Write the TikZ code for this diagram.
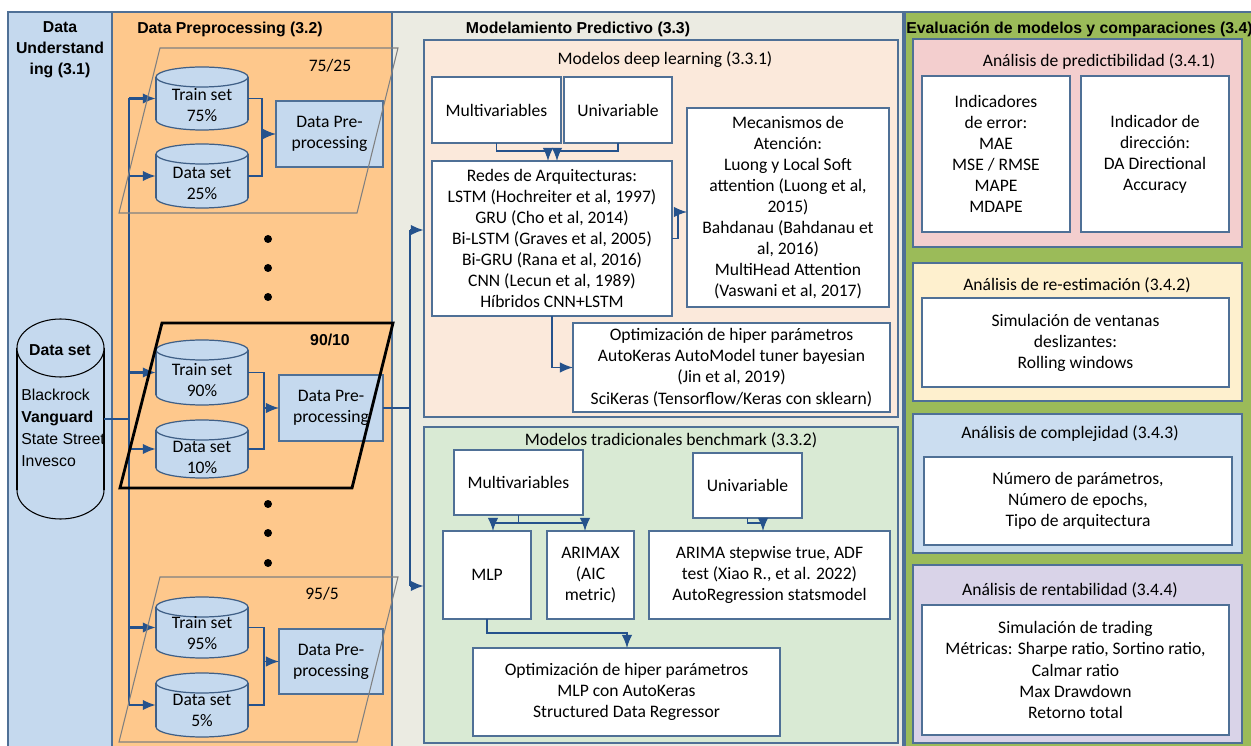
\documentclass[tikz,border=0pt]{standalone}
\usepackage{fontspec}
\setmainfont{Carlito}
\newfontfamily\arialf{Liberation Sans}
\usetikzlibrary{arrows.meta}
\definecolor{colU}{HTML}{C5D9EE}
\definecolor{colP}{HTML}{FEC88C}
\definecolor{colM}{HTML}{EBEBE2}
\definecolor{colE}{HTML}{9BBB59}
\definecolor{dlfill}{HTML}{FBE9DB}
\definecolor{tbfill}{HTML}{D9EAD4}
\definecolor{pinkf}{HTML}{F3CECE}
\definecolor{yellf}{HTML}{FEF0CE}
\definecolor{bluef}{HTML}{CBDDF0}
\definecolor{purpf}{HTML}{D9D3E8}
\definecolor{cylc}{HTML}{C5D9EE}
\definecolor{bordc}{HTML}{4F7096}
\definecolor{cylbord}{HTML}{3F5F86}
\definecolor{connc}{HTML}{25528C}
\newcommand\bodyfont{\fontsize{10}{12}\selectfont}
\newcommand\headfont{\arialf\bfseries\fontsize{9}{12}\selectfont}
\newcommand\rbox[7]{\node[#1,minimum width={(#5-#3)*0.02cm},minimum height={(#6-#4)*0.02cm},anchor=north west] (#2) at (#3,#4) {#7};}
\newcommand\cyl[7]{%
  \pgfmathsetmacro\cyX{(#3+#5)/2}%
  \pgfmathsetmacro\cyRX{(#5-#3)/2*0.02}%
  \pgfmathsetmacro\cyRY{#7*0.02}%
  \pgfmathsetmacro\cyT{#4+#7}%
  \pgfmathsetmacro\cyB{#6-#7}%
  \fill[cylc] (#3,\cyT) rectangle (#5,\cyB);
  \fill[cylc] (\cyX,\cyB) ellipse [x radius=\cyRX cm, y radius=\cyRY cm];
  \begin{scope}
    \clip (#3-3,\cyB) rectangle (#5+3,#6+3);
    \draw[#1] (\cyX,\cyB) ellipse [x radius=\cyRX cm, y radius=\cyRY cm];
  \end{scope}
  \draw[#1] (#3,\cyT) -- (#3,\cyB) (#5,\cyT) -- (#5,\cyB);
  \draw[#1,fill=cylc] (\cyX,\cyT) ellipse [x radius=\cyRX cm, y radius=\cyRY cm];
  \node[inner sep=0pt,outer sep=0pt,minimum width={(#5-#3)*0.02cm},minimum height={(#6-#4)*0.02cm}] (#2) at (\cyX,{(#4+#6)/2}) {};
}
\begin{document}
\begin{tikzpicture}[x=0.02cm,y=-0.02cm,
  colbox/.style={draw=bordc,line width=0.7pt,inner sep=0pt,outer sep=0pt},
  grpbox/.style={draw=bordc,line width=1pt,inner sep=0pt,outer sep=0pt},
  wbox/.style={draw=bordc,line width=1pt,fill=white,align=center,inner sep=0pt,outer sep=0pt,font=\bodyfont},
  bluebox/.style={wbox,fill=cylc,line width=0.7pt},
  htitle/.style={font=\headfont,align=center,inner sep=0pt},
  gtitle/.style={font=\bodyfont,inner sep=0pt},
  conn/.style={draw=connc,line width=0.8pt},
  trunk/.style={draw=connc,line width=1.4pt},
  arr/.style={-{Latex[length=7.5pt,width=6pt]}},
  cylline/.style={draw=cylbord,line width=0.7pt},
  bigcyl/.style={draw=black,line width=0.6pt},
  pgram/.style={draw=gray,line width=0.6pt},
  pgrambold/.style={draw=black,line width=1.6pt},
  cyltext/.style={font=\bodyfont,align=center,inner sep=0pt},
]
\useasboundingbox (0,0) rectangle (1251,746);
\fill[white] (0,0) rectangle (1251,746);
% columns
\rbox{colbox,fill=colU}{c1}{8}{12}{112}{750}{}
\rbox{colbox,fill=colP}{c2}{112}{12}{392}{750}{}
\rbox{colbox,fill=colM}{c3}{392}{12}{903}{750}{}
\rbox{colbox,fill=colE}{c4}{905}{12}{1256}{750}{}
\node[htitle] (t1) at (60,50) {Data\\Understand\\ing (3.1)};
\node[htitle] (t2) at (230,29) {Data Preprocessing (3.2)};
\node[htitle] (t3) at (578,29) {Modelamiento Predictivo (3.3)};
\node[htitle,anchor=west] (t4) at (906,29) {Evaluación de modelos y comparaciones (3.4)};
% big data set cylinder
\cyl{bigcyl}{ds}{17}{319}{104}{519}{29}
\node[font=\headfont,inner sep=0pt] (dst) at (60,350) {Data set};
\node[font=\arialf\fontsize{9}{12.5}\selectfont,align=left,anchor=west,inner sep=0pt] (dsl) at (21,428) {Blackrock\\\textbf{Vanguard}\\State Street\\Invesco};
% small cylinders
\cyl{cylline}{tr75}{156}{67}{248}{130}{10}
\node[cyltext] (tr75t) at (202,105) {Train set\\75\%};
\cyl{cylline}{ds25}{156}{144}{248}{208}{10}
\node[cyltext] (ds25t) at (202,183) {Data set\\25\%};
\cyl{cylline}{tr90}{156}{340}{248}{405}{10}
\node[cyltext] (tr90t) at (202,380) {Train set\\90\%};
\cyl{cylline}{ds10}{156}{420}{248}{478}{10}
\node[cyltext] (ds10t) at (202,457) {Data set\\10\%};
\cyl{cylline}{tr95}{156}{597}{248}{658}{10}
\node[cyltext] (tr95t) at (202,633) {Train set\\95\%};
\cyl{cylline}{ds5}{156}{673}{248}{737}{10}
\node[cyltext] (ds5t) at (202,710) {Data set\\5\%};
% preprocessing boxes
\rbox{bluebox}{dp1}{276}{101}{383}{167}{Data Pre-\\processing}
\rbox{bluebox}{dp2}{279}{375}{383}{441}{Data Pre-\\processing}
\rbox{bluebox}{dp3}{279}{629}{383}{694}{Data Pre-\\processing}
% split labels
\node[gtitle] (l1) at (330,66) {75/25};
\node[font=\headfont,inner sep=0pt] (l2) at (330,340) {90/10};
\node[gtitle] (l3) at (322,594) {95/5};
% dots
\foreach \yy in {239,268,297,504,533,563} \fill[black] (268,\yy) circle [radius=0.08cm];
% trunk
\coordinate (trk) at (129,0);
\draw[trunk] (ds.east) -- (ds.east -| trk);
\draw[trunk] (trk |- tr75.west) -- (trk |- ds5.west);
\foreach \n in {tr75,ds25,tr90,ds10,tr95,ds5} \draw[trunk,arr] (trk |- \n.west) -- (\n.west);
% split connectors
\coordinate (j1) at (262,0);
\coordinate (j2) at (264,0);
\draw[conn] (tr75.east) -| (j1 |- ds25.east) -- (ds25.east);
\draw[conn,arr] (j1 |- dp1.west) -- (dp1.west);
\draw[conn] (tr90.east) -| (j2 |- ds10.east) -- (ds10.east);
\draw[conn,arr] (j2 |- dp2.west) -- (dp2.west);
\draw[conn] (tr95.east) -| (j2 |- ds5.east) -- (ds5.east);
\draw[conn,arr] (j2 |- dp3.west) -- (dp3.west);
% deep learning group
\rbox{grpbox,fill=dlfill}{dl}{424}{40}{898}{417}{}
\node[gtitle] (dlt) at (665,60) {Modelos deep learning (3.3.1)};
\rbox{wbox}{mv1}{432}{77}{561}{143}{Multivariables}
\rbox{wbox}{uv1}{564}{77}{672}{143}{Univariable}
\rbox{wbox}{redes}{432}{161}{672}{316}{Redes de Arquitecturas:\\LSTM (Hochreiter et al, 1997)\\GRU (Cho et al, 2014)\\Bi-LSTM (Graves et al, 2005)\\Bi-GRU (Rana et al, 2016)\\CNN (Lecun et al, 1989)\\Híbridos CNN+LSTM}
\rbox{wbox}{mec}{687}{108}{889}{307}{Mecanismos de\\Atención:\\Luong y Local Soft\\attention (Luong et al,\\2015)\\Bahdanau (Bahdanau et\\al, 2016)\\MultiHead Attention\\(Vaswani et al, 2017)}
\rbox{wbox}{opt1}{573}{323}{890}{412}{Optimización de hiper parámetros\\AutoKeras AutoModel tuner bayesian\\(Jin et al, 2019)\\SciKeras (Tensorflow/Keras con sklearn)}
\coordinate (m1) at (548,151);
\coordinate (m2) at (557,151);
\draw[conn,arr] (mv1.south) |- (m1) -- (m1 |- redes.north);
\draw[conn,arr] (uv1.south) |- (m2) -- (m2 |- redes.north);
\coordinate (r1) at (678,212);
\draw[conn,arr] (redes.east) -| (r1) -- (r1 -| mec.west);
\draw[conn,arr] (redes.south) |- (opt1.west);
% traditional group
\rbox{grpbox,fill=tbfill}{tb}{424}{427}{898}{743}{}
\node[gtitle] (tbt) at (671,440) {Modelos tradicionales benchmark (3.3.2)};
\rbox{wbox}{mv2}{454}{450}{583}{515}{Multivariables}
\rbox{wbox}{uv2}{693}{453}{802}{518}{Univariable}
\rbox{wbox}{mlp}{443}{531}{531}{619}{MLP}
\rbox{wbox}{arimax}{547}{531}{634}{619}{ARIMAX\\(AIC\\metric)}
\rbox{wbox}{arima}{649}{531}{890}{619}{ARIMA stepwise true, ADF\\test (Xiao R., et al. 2022)\\AutoRegression statsmodel}
\rbox{wbox}{opt2}{473}{648}{780}{736}{Optimización de hiper parámetros\\MLP con AutoKeras\\Structured Data Regressor}
\coordinate (b2) at (493,523);
\coordinate (b3) at (585,523);
\coordinate (b4) at (763,523);
\coordinate (b5) at (627,633);
\draw[conn,arr] (mv2.south) |- (b2) -- (b2 |- mlp.north);
\draw[conn,arr] (mv2.south) |- (b3) -- (b3 |- arimax.north);
\draw[conn,arr] (uv2.south) |- (b4) -- (b4 |- arima.north);
\draw[conn,arr] (mlp.south) |- (b5) -- (b5 |- opt2.north);
% trunk to modelling
\coordinate (k1) at (410,230);
\coordinate (k2) at (410,586);
\draw[trunk] (dp2.east) -- (dp2.east -| k1);
\draw[trunk] (k1) -- (k2);
\draw[trunk,arr] (k1) -- (k1 -| dl.west);
\draw[trunk,arr] (k2) -- (k2 -| tb.west);
% evaluation
\rbox{grpbox,fill=pinkf}{pred}{913}{39}{1242}{247}{}
\node[gtitle] (predt) at (1099,61) {Análisis de predictibilidad (3.4.1)};
\rbox{wbox}{ind}{922}{76}{1070}{232}{Indicadores\\de error:\\MAE\\MSE / RMSE\\MAPE\\MDAPE}
\rbox{wbox}{dir}{1081}{76}{1229}{232}{Indicador de\\dirección:\\DA Directional\\Accuracy}
\rbox{grpbox,fill=yellf}{reest}{913}{263}{1242}{401}{}
\node[gtitle] (reestt) at (1077,285) {Análisis de re-estimación (3.4.2)};
\rbox{wbox}{rw}{922}{298}{1229}{387}{Simulación de ventanas\\deslizantes:\\Rolling windows}
\rbox{grpbox,fill=bluef}{comp}{913}{414}{1242}{553}{}
\node[gtitle] (compt) at (1070,434) {Análisis de complejidad (3.4.3)};
\rbox{wbox}{cp}{924}{457}{1232}{545}{Número de parámetros,\\Número de epochs,\\Tipo de arquitectura}
\rbox{grpbox,fill=purpf}{rent}{913}{565}{1242}{743}{}
\node[gtitle] (rentt) at (1070,590) {Análisis de rentabilidad (3.4.4)};
\rbox{wbox}{rt}{922}{605}{1229}{735}{Simulación de trading\\Métricas: Sharpe ratio, Sortino ratio,\\Calmar ratio\\Max Drawdown\\Retorno total}
% parallelograms
\draw[pgram] (160,48) -- (398,48) -- (357,213) -- (119,213) -- cycle;
\draw[pgrambold] (162,323) -- (393,323) -- (352,488) -- (120,488) -- cycle;
\draw[pgram] (160,577) -- (398,577) -- (357,742) -- (119,742) -- cycle;
\end{tikzpicture}
\end{document}
